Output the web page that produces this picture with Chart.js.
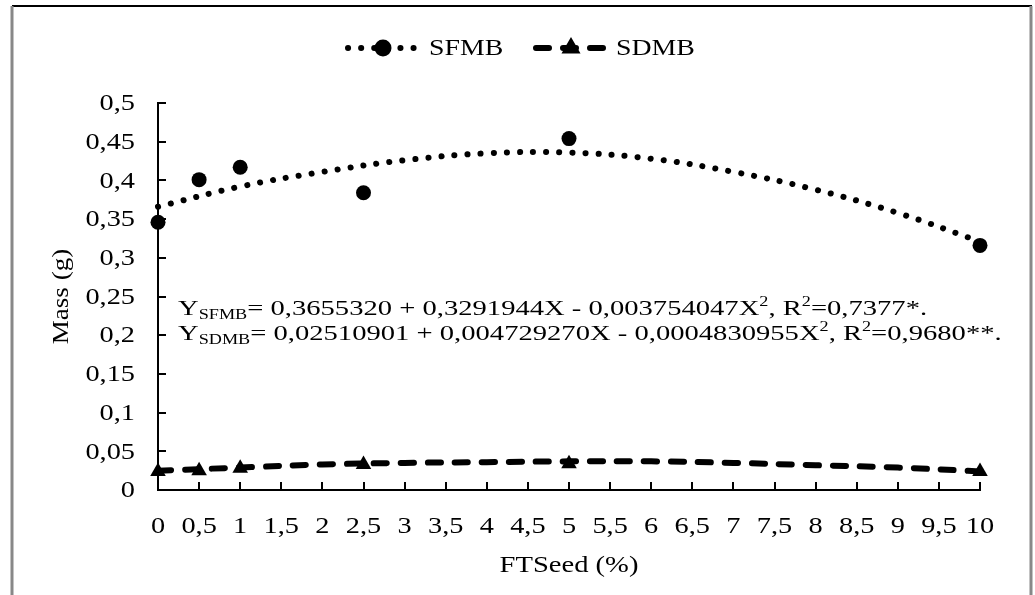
<!DOCTYPE html>
<html>
<head>
<meta charset="utf-8">
<script src="https://cdn.jsdelivr.net/npm/chart.js@4.4.1/dist/chart.umd.min.js"></script>
<style>
  html, body { margin: 0; padding: 0; background: #fff; }
  #wrap { width: 1035px; height: 595px; }
</style>
</head>
<body>
<div id="wrap"><canvas id="chart" width="1035" height="595"></canvas></div>
<script>
// measured points, FTSeed (%)
const doses = [0, 0.5, 1, 2.5, 5, 10];
const sfmb = [0.346, 0.401, 0.417, 0.384, 0.454, 0.316];
const sdmb = [0.024, 0.025, 0.028, 0.033, 0.034, 0.024];

// fitted curves
const fitX = [0, 1, 2, 3, 4, 5, 6, 7, 8, 9, 10];
const sfmbFit = [0.366, 0.392, 0.411, 0.426, 0.435, 0.436, 0.428, 0.411, 0.388, 0.358, 0.321];
const sdmbFit = [0.025, 0.029, 0.033, 0.035, 0.036, 0.037, 0.037, 0.035, 0.032, 0.029, 0.024];

const xTickValues = [0, 0.5, 1, 1.5, 2, 2.5, 3, 3.5, 4, 4.5, 5, 5.5, 6, 6.5, 7, 7.5, 8, 8.5, 9, 9.5, 10];
const yTickValues = [0, 0.05, 0.1, 0.15, 0.2, 0.25, 0.3, 0.35, 0.4, 0.45, 0.5];

const seriesNames = ['SFMB', 'SDMB'];
const eqLines = [
  [['Y', 'n'], ['SFMB', 'sub'], ['= 0,3655320 + 0,3291944X - 0,003754047X', 'n'], ['2', 'sup'], [', R', 'n'], ['2', 'sup'], ['=0,7377*.', 'n']],
  [['Y', 'n'], ['SDMB', 'sub'], ['= 0,02510901 + 0,004729270X - 0,0004830955X', 'n'], ['2', 'sup'], [', R', 'n'], ['2', 'sup'], ['=0,9680**.', 'n']]
];

const FONT = '"Liberation Serif", "Times New Roman", serif';
const comma = v => String(v).replace('.', ',');
const pts = (xs, ys) => xs.map((x, i) => ({ x: x, y: ys[i] }));

// the source picture is a bit wider than tall, so text gets stretched sideways
function wideText(ctx, s, x, y, align, sx) {
  const w = ctx.measureText(s).width * sx;
  let left = x;
  if (align === 'center') left = x - w / 2;
  else if (align === 'right') left = x - w;
  ctx.save();
  ctx.translate(left, y);
  ctx.scale(sx, 1);
  ctx.textAlign = 'left';
  ctx.fillText(s, 0, 0);
  ctx.restore();
  return w;
}

// frame, inward ticks, tick labels, legend, titles and equations
const decor = {
  id: 'decor',
  beforeDraw(chart) {
    const ctx = chart.ctx;
    ctx.save();
    ctx.fillStyle = '#fff';
    ctx.fillRect(0, 0, chart.width, chart.height);
    ctx.strokeStyle = '#000';
    ctx.lineWidth = 2;
    ctx.beginPath();
    ctx.moveTo(12, 6); ctx.lineTo(1032, 6);
    ctx.stroke();
    ctx.strokeStyle = '#888';
    ctx.lineWidth = 3;
    ctx.beginPath();
    ctx.moveTo(12, 6); ctx.lineTo(12, 595);
    ctx.moveTo(1031, 6); ctx.lineTo(1031, 595);
    ctx.stroke();
    ctx.restore();
  },
  afterDraw(chart) {
    const ctx = chart.ctx;
    const xs = chart.scales.x, ys = chart.scales.y;
    const area = chart.chartArea;
    ctx.save();

    // tick marks point into the plot
    ctx.strokeStyle = '#000';
    ctx.lineWidth = 2;
    ctx.beginPath();
    xs.ticks.forEach(t => {
      const px = Math.round(xs.getPixelForValue(t.value));
      ctx.moveTo(px, area.bottom); ctx.lineTo(px, area.bottom - 8);
    });
    ys.ticks.forEach(t => {
      const py = Math.round(ys.getPixelForValue(t.value));
      ctx.moveTo(area.left, py); ctx.lineTo(area.left + 8, py);
    });
    ctx.stroke();

    // tick labels
    ctx.fillStyle = '#000';
    ctx.font = '24px ' + FONT;
    ctx.textBaseline = 'middle';
    xs.ticks.forEach(t => {
      wideText(ctx, comma(t.value), xs.getPixelForValue(t.value), 527, 'center', 1.18);
    });
    ys.ticks.forEach(t => {
      wideText(ctx, comma(t.value), 135, ys.getPixelForValue(t.value) + 1, 'right', 1.18);
    });

    // legend
    const legendItems = [
      { fit: chart.data.datasets[0], pts: chart.data.datasets[2], x: 346, text: 429 },
      { fit: chart.data.datasets[1], pts: chart.data.datasets[3], x: 534, text: 616 }
    ];
    const ly = 48;
    legendItems.forEach((it, i) => {
      ctx.save();
      ctx.strokeStyle = '#000';
      ctx.lineWidth = it.fit.borderWidth;
      ctx.lineCap = 'round';
      ctx.setLineDash(it.fit.borderDash);
      ctx.beginPath();
      ctx.moveTo(it.x + 2, ly); ctx.lineTo(it.x + 72, ly);
      ctx.stroke();
      ctx.restore();
      Chart.helpers.drawPoint(ctx, {
        pointStyle: it.pts.pointStyle, radius: it.pts.pointRadius, borderWidth: 1, rotation: 0
      }, it.x + 37, ly);
      wideText(ctx, seriesNames[i], it.text, ly + 1, 'left', 1.16);
    });

    // axis titles
    wideText(ctx, 'FTSeed (%)', (area.left + area.right) / 2, 566, 'center', 1.19);
    ctx.save();
    ctx.translate(62, (area.top + area.bottom) / 2);
    ctx.rotate(-Math.PI / 2);
    wideText(ctx, 'Mass (g)', 0, 0, 'center', 1.13);
    ctx.restore();

    // regression equations
    ctx.textBaseline = 'alphabetic';
    const base = [315, 340];
    eqLines.forEach((runs, li) => {
      let x = 178;
      runs.forEach(([s, kind]) => {
        let dy = 0;
        if (kind === 'n') ctx.font = '22px ' + FONT;
        else { ctx.font = '14px ' + FONT; dy = kind === 'sub' ? 4 : -9; }
        x += wideText(ctx, s, x, base[li] + dy, 'left', 1.3);
      });
    });

    ctx.restore();
  }
};

new Chart(document.getElementById('chart'), {
  type: 'line',
  data: {
    datasets: [
      {
        label: 'SFMB fit', data: pts(fitX, sfmbFit),
        borderColor: '#000', borderWidth: 6, borderDash: [0.1, 13], borderCapStyle: 'round',
        pointRadius: 0, tension: 0.4, fill: false, clip: false
      },
      {
        label: 'SDMB fit', data: pts(fitX, sdmbFit),
        borderColor: '#000', borderWidth: 6, borderDash: [13, 14], borderCapStyle: 'round',
        pointRadius: 0, tension: 0.4, fill: false, clip: false
      },
      {
        label: 'SFMB', data: pts(doses, sfmb), showLine: false, clip: false,
        pointStyle: 'circle', pointRadius: 7.5, backgroundColor: '#000', borderColor: '#000', borderWidth: 0
      },
      {
        label: 'SDMB', data: pts(doses, sdmb), showLine: false, clip: false,
        pointStyle: 'triangle', pointRadius: 9, backgroundColor: '#000', borderColor: '#000', borderWidth: 0
      }
    ]
  },
  options: {
    responsive: false,
    animation: false,
    layout: { padding: { top: 103, right: 55, left: 0, bottom: 0 } },
    plugins: { legend: { display: false }, tooltip: { enabled: false } },
    scales: {
      x: {
        type: 'linear', min: 0, max: 10,
        afterBuildTicks: s => { s.ticks = xTickValues.map(v => ({ value: v })); },
        afterFit: s => { s.height = 105; },
        ticks: { display: false, callback: v => comma(v) },
        grid: { display: false, drawTicks: false },
        border: { display: true, color: '#000', width: 2 }
      },
      y: {
        type: 'linear', min: 0, max: 0.5,
        afterBuildTicks: s => { s.ticks = yTickValues.map(v => ({ value: v })); },
        afterFit: s => { s.width = 158; },
        ticks: { display: false, callback: v => comma(v) },
        grid: { display: false, drawTicks: false },
        border: { display: true, color: '#000', width: 2 }
      }
    }
  },
  plugins: [decor]
});
</script>
</body>
</html>
